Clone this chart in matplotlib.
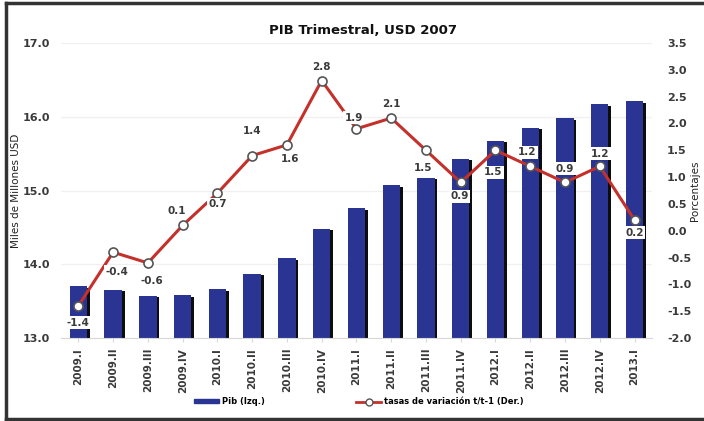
import matplotlib
matplotlib.use("Agg")
from matplotlib import pyplot as plt
from matplotlib.lines import Line2D
from matplotlib.patches import Patch
import matplotlib.patheffects as pe

quarters = ['2009.I', '2009.II', '2009.III', '2009.IV',
            '2010.I', '2010.II', '2010.III', '2010.IV',
            '2011.I', '2011.II', '2011.III', '2011.IV',
            '2012.I', '2012.II', '2012.III', '2012.IV', '2013.I']
pib = [13.70, 13.65, 13.57, 13.58, 13.66, 13.87, 14.08, 14.48,
       14.76, 15.07, 15.17, 15.43, 15.67, 15.85, 15.98, 16.17, 16.21]
tasas = [-1.4, -0.4, -0.6, 0.1, 0.7, 1.4, 1.6, 2.8,
         1.9, 2.1, 1.5, 0.9, 1.5, 1.2, 0.9, 1.2, 0.2]
# label offsets in points (dx, dy)
label_off = [(0, -12), (3, -14), (3, -13), (-4, 10), (0, -8), (0, 18), (2, -10), (0, 10),
             (-2, 8), (0, 10), (-2, -13), (-1, -10), (-2, -16), (-2, 10), (0, 10), (0, 9), (0, -9)]

bar_col = '#2a3593'
line_col = '#c4302a'
txt_col = '#3a3a3a'

fig = plt.figure(figsize=(7.04, 4.21), dpi=100)
ax = fig.add_axes([0.0866, 0.197, 0.8394, 0.701])
x = list(range(len(quarters)))

bars = ax.bar(x, pib, width=0.5, color=bar_col, zorder=2,
              path_effects=[pe.SimplePatchShadow(offset=(2, -1), shadow_rgbFace='black', alpha=0.95),
                            pe.Normal()])
ax.set_ylim(13.0, 17.0)
ax.set_xlim(-0.5, len(quarters) - 0.5)
ax.set_yticks([13, 14, 15, 16, 17])
ax.set_yticklabels(['%.1f' % v for v in [13, 14, 15, 16, 17]])
ax.yaxis.grid(True, color='#f0f0f0', lw=1)
ax.set_axisbelow(True)
ax.set_xticks(x)
ax.set_xticklabels(quarters, rotation=90, fontsize=7.5, fontweight='bold', color=txt_col)
for s in ['top', 'right', 'left']:
    ax.spines[s].set_visible(False)
ax.spines['bottom'].set_color('#d8d8d8')
ax.tick_params(axis='x', length=3, color='#d8d8d8', pad=4)
ax.tick_params(axis='y', length=0, labelsize=8, labelcolor=txt_col, pad=8)
for t in ax.get_yticklabels():
    t.set_fontweight('bold')
ax.set_ylabel('Miles de Millones USD', fontsize=7.5, color='#222222')
ax.yaxis.set_label_coords(-0.068, 0.5)

ax2 = ax.twinx()
ax2.set_ylim(-2.0, 3.5)
ticks2 = [-2.0 + 0.5 * i for i in range(12)]
ax2.set_yticks(ticks2)
ax2.set_yticklabels(['%.1f' % v for v in ticks2])
for s in ['top', 'right', 'left', 'bottom']:
    ax2.spines[s].set_visible(False)
ax2.tick_params(axis='y', length=0, labelsize=8, labelcolor=txt_col, pad=11)
for t in ax2.get_yticklabels():
    t.set_fontweight('bold')
ax2.set_ylabel('Porcentajes', fontsize=7.5, color='#222222', rotation=90)
ax2.yaxis.set_label_coords(1.065, 0.5)

ax2.plot(x, tasas, color=line_col, lw=2.2, marker='o', markersize=6.5,
         markerfacecolor='white', markeredgecolor='#555555', markeredgewidth=1.2, zorder=3)
for xi, v, (dx, dy) in zip(x, tasas, label_off):
    ax2.annotate('%.1f' % v, (xi, v), xytext=(dx, dy), textcoords='offset points',
                 ha='center', va='center', fontsize=7.5, fontweight='bold', color=txt_col,
                 bbox=dict(boxstyle='square,pad=0.15', fc='white', ec='none'), zorder=4)

fig.text(0.515, 0.928, 'PIB Trimestral, USD 2007', ha='center', va='center',
         fontsize=9.5, fontweight='bold', color='#111111')

handles = [Patch(color=bar_col),
           Line2D([], [], color=line_col, lw=2, marker='o', markersize=5,
                  markerfacecolor='white', markeredgecolor='#555555')]
fig.legend(handles, ['Pib (Izq.)', 'tasas de variación t/t-1 (Der.)'],
           loc='center', bbox_to_anchor=(0.51, 0.046), ncol=2, frameon=False,
           prop=dict(size=6, weight='bold'), handlelength=3, handleheight=0.4,
           columnspacing=11, handletextpad=0.3)

# frame around the figure
border = dict(color='#333333', lw=2.5, transform=fig.transFigure, clip_on=False)
fig.add_artist(Line2D([0.008, 1.0], [0.993, 0.993], **border))
fig.add_artist(Line2D([0.008, 0.008], [0.004, 0.993], **border))
fig.add_artist(Line2D([0.008, 1.0], [0.004, 0.004], **border))

fig.savefig('out.png', dpi=100)
